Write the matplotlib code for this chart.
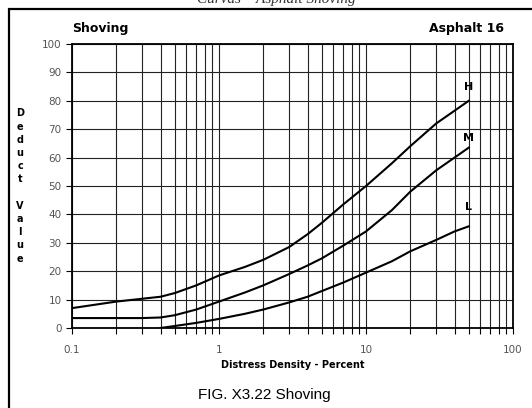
import matplotlib.pyplot as plt
import numpy as np
from matplotlib.patches import Rectangle
from matplotlib.ticker import LogLocator, FixedLocator, NullFormatter

# 曲线数据
x_h = [0.1, 0.2, 0.3, 0.4, 0.5, 0.7, 1, 1.5, 2, 3, 4, 5, 7, 10, 15, 20, 30, 40, 50]
y_h = [7, 9.3, 10.3, 11, 12.3, 15, 18.5, 21.5, 24, 28.5, 33, 37, 43.5, 50, 58, 64, 72, 76.5, 80]
x_m = [0.1, 0.2, 0.3, 0.4, 0.5, 0.7, 1, 1.5, 2, 3, 4, 5, 7, 10, 15, 20, 30, 40, 50]
y_m = [3.5, 3.5, 3.5, 3.7, 4.5, 6.5, 9.3, 12.5, 15, 19, 22, 24.5, 29, 34, 41.5, 48, 55.5, 60, 63.5]
x_l = [0.4, 0.5, 0.7, 1, 1.5, 2, 3, 4, 5, 7, 10, 15, 20, 30, 40, 50]
y_l = [0, 0.7, 1.8, 3.2, 5, 6.5, 9, 11, 13, 16, 19.5, 23.5, 27, 31, 34, 35.8]
curve_names = ['H', 'M', 'L']
name_y = [85, 67, 42.5]

xticks = [0.1, 1, 10, 100]
xtick_labels = ['0.1', '1', '10', '100']
yticks = np.arange(0, 101, 10)

fig = plt.figure(figsize=(5.32, 4.08), dpi=100)

# 外框
fig.patches.append(Rectangle((9 / 532, -0.05), 1.0, 1 - 9 / 408 + 0.05,
                             transform=fig.transFigure, fill=False,
                             edgecolor='black', linewidth=1.6))

# 顶部被截掉的标题
fig.text(0.52, 1.0, 'Curvas – Asphalt Shoving', ha='center', va='center',
         fontsize=11, style='italic', family='Liberation Serif', color='#333')

ax = fig.add_axes([72 / 532, 1 - 328 / 408, 441 / 532, 284 / 408])
ax.set_xscale('log')
ax.set_xlim(0.1, 100)
ax.set_ylim(0, 100)

# 网格
ax.xaxis.set_major_locator(FixedLocator(xticks))
ax.xaxis.set_minor_locator(LogLocator(base=10, subs=np.arange(2, 10)))
ax.xaxis.set_minor_formatter(NullFormatter())
ax.set_xticklabels(xtick_labels)
ax.set_yticks(yticks)
ax.grid(which='both', axis='x', color='#222', linewidth=0.8)
ax.grid(which='major', axis='y', color='#222', linewidth=0.8)
ax.tick_params(which='both', direction='out', length=4, width=0.8,
               labelsize=7.5, labelcolor='#555', top=False, right=False)
ax.tick_params(axis='x', pad=8)
for s in ax.spines.values():
    s.set_linewidth(1.3)

for xs, ys in [(x_h, y_h), (x_m, y_m), (x_l, y_l)]:
    ax.plot(xs, ys, color='black', linewidth=1.5)

for name, yy in zip(curve_names, name_y):
    ax.text(50, yy, name, ha='center', va='center', fontsize=8, fontweight='bold')

ax.text(0.0, 1.03, 'Shoving', transform=ax.transAxes, ha='left', va='bottom',
        fontsize=9, fontweight='bold')
ax.text(0.98, 1.03, 'Asphalt 16', transform=ax.transAxes, ha='right', va='bottom',
        fontsize=9, fontweight='bold')

ax.set_xlabel('Distress Density - Percent', fontsize=7, fontweight='bold', labelpad=4)
fig.text(20 / 532, 1 - 186 / 408, '\n'.join('Deduct Value'), ha='center', va='center',
         fontsize=7, fontweight='bold', linespacing=1.4)

fig.text(264 / 532, 1 - 395 / 408, 'FIG. X3.22 Shoving', ha='center', va='center',
         fontsize=11, family='Liberation Sans')

plt.savefig('out.png', dpi=100)
